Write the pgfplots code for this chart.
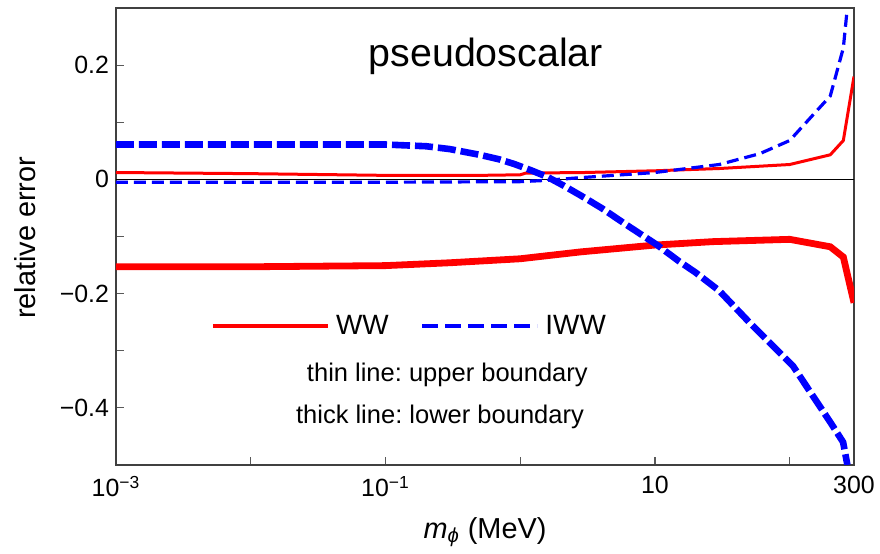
\documentclass[border=0pt]{standalone}
\usepackage{fontspec}
\setmainfont{Liberation Sans}
\usepackage{pgfplots}
\pgfplotsset{compat=1.18}
\frenchspacing
\begin{document}
\begin{tikzpicture}
\begin{axis}[
  scale only axis,
  width=369bp, height=228.5bp,
  xmode=log,
  xmin=0.001, xmax=300,
  ymin=-0.5, ymax=0.3,
  axis line style={draw=black!75, line width=0.6bp},
  tick pos=left,
  tick align=inside,
  major tick length=4bp,
  tick style={draw=black!65, line width=0.6bp},
  xtick={0.001,0.01,0.1,1,10,100,300},
  xticklabels={10\textsuperscript{−3},,10\textsuperscript{−1},,10,,300},
  minor xtick={},
  ytick={-0.4,-0.3,-0.2,-0.1,0,0.1,0.2},
  yticklabels={{−0.4},{},{−0.2},{},{0},{},{0.2}},
  tick label style={font=\fontsize{12.5}{15}\selectfont},
  xticklabel style={yshift=-2bp},
  xlabel={\textit{m}\textsubscript{\textit{ϕ}} (MeV)},
  ylabel={relative error},
  label style={font=\fontsize{14.5}{17}\selectfont},
  xlabel style={at={(axis description cs:0.5,-0.16)}, anchor=base},
  ylabel style={at={(axis description cs:-0.1226,0.497)}, anchor=center},
  clip=true,
  legend columns=2,
  legend image code/.code={\draw[#1] (0bp,0bp) -- (57.5bp,0bp);},
  legend style={draw=none, fill=none, at={(rel axis cs:0.40,0.304)}, anchor=center,
    font=\fontsize{14}{17}\selectfont,
    nodes={inner xsep=3bp},
    /tikz/every even column/.append style={column sep=12.5bp}},
]
\addlegendimage{red, line width=2.3bp}
\addlegendimage{blue, line width=2.3bp, dash pattern=on 8bp off 3.5bp}
\legend{WW,IWW}

% zero line
\addplot[black, line width=0.6bp, forget plot] coordinates {(0.001,0) (300,0)};

% WW upper (thin)
\addplot[red, line width=1.5bp, forget plot] coordinates {
(0.001,0.012) (0.01,0.010) (0.1,0.007) (0.5,0.007) (1,0.008) (1.1,0.011) (3,0.012)
(10,0.015) (30,0.019) (100,0.026) (200,0.043) (250,0.068) (300,0.18)};

% WW lower (thick)
\addplot[red, line width=3.4bp, forget plot] coordinates {
(0.001,-0.153) (0.01,-0.153) (0.1,-0.151) (0.3,-0.146) (1,-0.139) (2.8,-0.127)
(10,-0.115) (27,-0.109) (100,-0.105) (200,-0.118) (250,-0.136) (300,-0.216)};

% IWW upper (thin)
\addplot[blue, line width=1.6bp, dash pattern=on 6bp off 3bp, forget plot] coordinates {
(0.001,-0.005) (0.1,-0.005) (1,-0.004) (1.5,-0.002) (2.8,0.003) (10,0.012)
(30,0.026) (60,0.045) (100,0.068) (200,0.146) (250,0.23) (265,0.29)};

% IWW lower (thick)
\addplot[blue, line width=3.3bp, dash pattern=on 9bp off 2.5bp, forget plot] coordinates {
(0.001,0.061) (0.01,0.061) (0.1,0.061) (0.2,0.058) (0.3,0.053) (0.5,0.043)
(0.7,0.035) (0.9,0.027) (1.2,0.016) (1.6,0.004) (2.1,-0.011) (2.8,-0.028) (4,-0.050)
(6,-0.078) (10.4,-0.115) (15,-0.143) (20,-0.163) (30,-0.195) (50,-0.25)
(106,-0.327) (200,-0.425) (249,-0.46) (268,-0.5)};

\node[font=\fontsize{19.75}{24}\selectfont, anchor=base] at (rel axis cs:0.501,0.871) {pseudoscalar};
\node[font=\fontsize{12.8}{15}\selectfont, anchor=base] at (rel axis cs:0.449,0.182) {thin line: upper boundary};
\node[font=\fontsize{12.8}{15}\selectfont, anchor=base] at (rel axis cs:0.439,0.0897) {thick line: lower boundary};
\end{axis}
\pgfresetboundingbox
\path[use as bounding box] ([shift={(-58bp,-44.5bp)}]current axis.south west) rectangle ([shift={(13bp,4bp)}]current axis.north east);
\end{tikzpicture}
\end{document}
